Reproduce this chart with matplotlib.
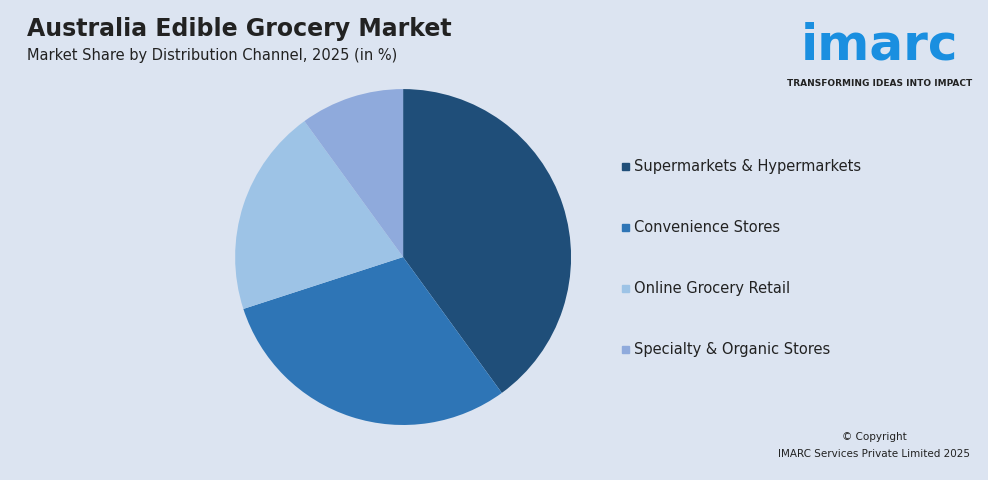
import matplotlib.pyplot as plt

channels = ["Supermarkets & Hypermarkets", "Convenience Stores",
            "Online Grocery Retail", "Specialty & Organic Stores"]
shares = [40, 30, 20, 10]
colors = ["#1f4e79", "#2e75b6", "#9dc3e6", "#8faadc"]

bg = "#dce4f1"
fig = plt.figure(figsize=(9.88, 4.81), dpi=100, facecolor=bg)

ax = fig.add_axes([0.408 - 0.17, 0.4636 - 0.3493, 0.34, 0.6985])
ax.pie(shares, colors=colors, startangle=90, counterclock=False,
       wedgeprops=dict(linewidth=0))
ax.set_xlim(-1, 1)
ax.set_ylim(-1, 1)
ax.set_aspect("equal")

fig.text(0.027, 0.94, "Australia Edible Grocery Market", fontsize=17,
         fontweight="bold", color="#222222", va="center")
fig.text(0.027, 0.885, "Market Share by Distribution Channel, 2025 (in %)",
         fontsize=10.5, color="#222222", va="center")

for i, (name, c) in enumerate(zip(channels, colors)):
    y = (481 - 167 - i * 61) / 481
    fig.patches.append(plt.Rectangle((622 / 988, y - 0.009), 0.0075, 0.0155,
                                     transform=fig.transFigure, color=c))
    fig.text(634 / 988, y, name, fontsize=10.5, color="#222222", va="center")

# logo
fig.text(0.89, 0.905, "imarc", fontsize=36, fontweight="bold",
         color="#1a8fe0", ha="center", va="center")
fig.text(0.89, 0.827, "TRANSFORMING IDEAS INTO IMPACT", fontsize=6.5,
         fontweight="bold", color="#222222", ha="center", va="center")

fig.text(0.885, 0.085, "© Copyright", fontsize=7.5, color="#222222", ha="center")
fig.text(0.885, 0.05, "IMARC Services Private Limited 2025", fontsize=7.5,
         color="#222222", ha="center")

fig.savefig("out.png", dpi=100, facecolor=bg)
